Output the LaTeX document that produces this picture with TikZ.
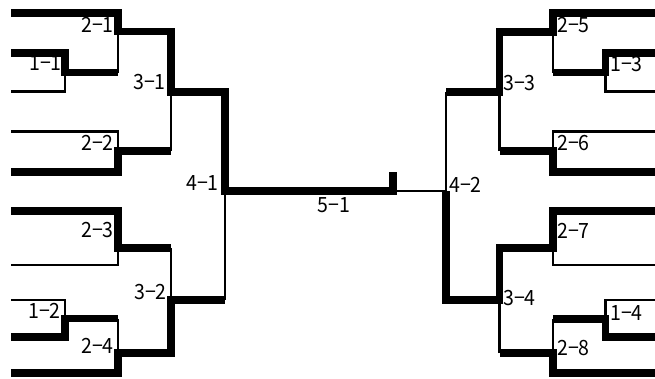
\documentclass[tikz,border=0pt]{standalone}
\usepackage{fontspec}
\setmainfont[FakeStretch=0.93]{Noto Sans CJK JP}

\tikzset{
  win/.style={line width=7.5pt},
  lose/.style={line width=2.7pt},
  lbl/.style={font=\fontsize{21}{21}\selectfont, inner sep=0pt},
}

\begin{document}
\begin{tikzpicture}[x=1pt, y=-1pt]
  \useasboundingbox (0,0) rectangle (655,378);
  % entry lines, left and right
  \foreach \n/\y in {1/13, 2/53, 3/91.5, 4/131.5, 5/172, 6/211, 7/265, 8/300, 9/337, 10/373} {
    \coordinate (a\n) at (11,\y);
    \coordinate (b\n) at (655,\y);
  }
  % match points
  \coordinate (m11) at (65,72.5);
  \coordinate (m12) at (65,318.5);
  \coordinate (m21) at (118,31.5);
  \coordinate (m22) at (118,151);
  \coordinate (m23) at (118,248);
  \coordinate (m24) at (118,353);
  \coordinate (m31) at (171,92);
  \coordinate (m32) at (171,300);
  \coordinate (m41) at (225,191);
  \coordinate (m13) at (605.5,72.5);
  \coordinate (m14) at (605.5,319);
  \coordinate (m25) at (553,32);
  \coordinate (m26) at (553,151);
  \coordinate (m27) at (553,248);
  \coordinate (m28) at (553,353);
  \coordinate (m33) at (499.5,92);
  \coordinate (m34) at (499.5,300);
  \coordinate (m42) at (446,191);
  \coordinate (m51) at (393,191);
  \coordinate (crown) at (393,172);

  % losing sides
  \draw[lose] (a3) -| (m11);
  \draw[lose] (m11 -| m21) -- (m21);
  \draw[lose] (a4) -| (m22);
  \draw[lose] (m22 -| m31) -- (m31);
  \draw[lose] (a7) -| (m23);
  \draw[lose] (m23 -| m32) -- (m32);
  \draw[lose] (a8) -| (m12);
  \draw[lose] (m12 -| m24) -- (m24);
  \draw[lose] (m32 -| m41) -- (m41);
  \draw[lose] (b3) -| (m13);
  \draw[lose] (m13 -| m25) -- (m25);
  \draw[lose] (b4) -| (m26);
  \draw[lose] (m26 -| m33) -- (m33);
  \draw[lose] (b7) -| (m27);
  \draw[lose] (b8) -| (m14);
  \draw[lose] (m14 -| m28) -- (m28);
  \draw[lose] (m28 -| m34) -- (m34);
  \draw[lose] (m33 -| m42) -- (m42);
  \draw[lose] (m42) -- (m51);

  % winning sides
  \draw[win] (a1) -| (m21) -| (m31) -| (m41) -- (m51) -- (crown);
  \draw[win] (a2) -| (m11) -- (m11 -| m21);
  \draw[win] (a5) -| (m22) -- (m22 -| m31);
  \draw[win] (a6) -| (m23) -- (m23 -| m32);
  \draw[win] (a9) -| (m12) -- (m12 -| m24);
  \draw[win] (a10) -| (m24) -| (m32) -- (m32 -| m41);
  \draw[win] (b1) -| (m25) -| (m33) -- (m33 -| m42);
  \draw[win] (b2) -| (m13) -- (m13 -| m25);
  \draw[win] (b5) -| (m26) -- (m26 -| m33);
  \draw[win] (b6) -| (m27) -| (m34) -| (m42);
  \draw[win] (b9) -| (m14) -- (m14 -| m28);
  \draw[win] (b10) -| (m28) -- (m28 -| m34);

  % match labels
  \node[lbl, anchor=base east] (l11) at (62,70) {1−1};
  \node[lbl, anchor=base east] (l12) at (61,318) {1−2};
  \node[lbl, anchor=base east] (l21) at (114,32) {2−1};
  \node[lbl, anchor=base east] (l22) at (114,150) {2−2};
  \node[lbl, anchor=base east] (l23) at (114,237) {2−3};
  \node[lbl, anchor=base east] (l24) at (114,353) {2−4};
  \node[lbl, anchor=base east] (l31) at (166,89) {3−1};
  \node[lbl, anchor=base east] (l32) at (167,299) {3−2};
  \node[lbl, anchor=base east] (l41) at (219,190) {4−1};
  \node[lbl, anchor=base] (l51) at (334,212) {5−1};
  \node[lbl, anchor=base west] (l42) at (449,192) {4−2};
  \node[lbl, anchor=base west] (l33) at (503,90) {3−3};
  \node[lbl, anchor=base west] (l34) at (503,305) {3−4};
  \node[lbl, anchor=base west] (l25) at (557,32) {2−5};
  \node[lbl, anchor=base west] (l26) at (557,150) {2−6};
  \node[lbl, anchor=base west] (l27) at (557,238) {2−7};
  \node[lbl, anchor=base west] (l28) at (557,355) {2−8};
  \node[lbl, anchor=base west] (l13) at (610,71) {1−3};
  \node[lbl, anchor=base west] (l14) at (610,320) {1−4};
\end{tikzpicture}
\end{document}
